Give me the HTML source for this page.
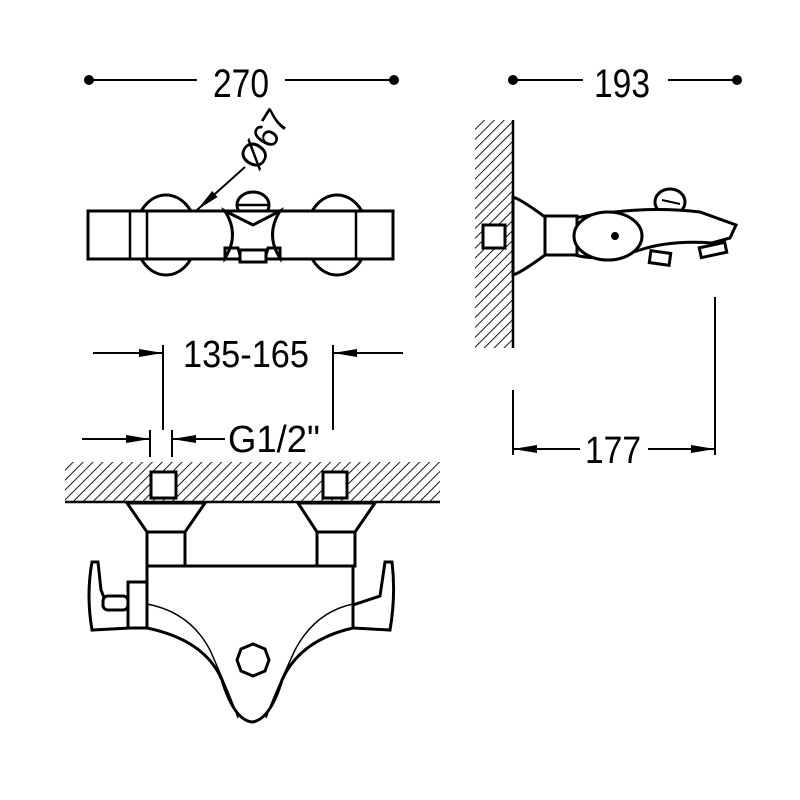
<!DOCTYPE html>
<html><head><meta charset="utf-8"><style>html,body{margin:0;padding:0;background:#fff}svg{display:block}</style></head>
<body>
<svg width="800" height="800" viewBox="0 0 800 800" xmlns="http://www.w3.org/2000/svg">
<defs>
<pattern id="h" width="7" height="7" patternUnits="userSpaceOnUse" patternTransform="rotate(45)">
<line x1="0" y1="0" x2="0" y2="7" stroke="#000" stroke-width="1.8"/>
</pattern>
<marker id="a" markerWidth="24" markerHeight="10" refX="24" refY="5" orient="auto" markerUnits="userSpaceOnUse">
<path d="M0,1 L24,5 L0,9 Z" fill="#000"/>
</marker>
</defs>
<g font-family="Liberation Sans, sans-serif" fill="#000">
<text x="241" y="97" font-size="40" text-anchor="middle" textLength="56" lengthAdjust="spacingAndGlyphs">270</text>
<text x="622" y="97" font-size="40" text-anchor="middle" textLength="56" lengthAdjust="spacingAndGlyphs">193</text>
<text x="246" y="367" font-size="38" text-anchor="middle" textLength="126" lengthAdjust="spacingAndGlyphs">135-165</text>
<text x="228" y="452" font-size="38" textLength="92" lengthAdjust="spacingAndGlyphs">G1/2"</text>
<text x="613" y="463" font-size="38" text-anchor="middle" textLength="56" lengthAdjust="spacingAndGlyphs">177</text>
<text x="0" y="0" font-size="36" transform="translate(258,172) rotate(-58)" textLength="62" lengthAdjust="spacingAndGlyphs">Ø67</text>
</g>
<g stroke="#000" stroke-width="2" fill="none">
<line x1="89" y1="80" x2="197" y2="80"/><line x1="285" y1="80" x2="394" y2="80"/>
<line x1="513" y1="80" x2="583" y2="80"/><line x1="668" y1="80" x2="737" y2="80"/>
<line x1="163" y1="345" x2="163" y2="430"/><line x1="333" y1="345" x2="333" y2="430"/>
<line x1="93" y1="353" x2="163" y2="353" marker-end="url(#a)"/>
<line x1="403" y1="353" x2="333" y2="353" marker-end="url(#a)"/>
<line x1="150" y1="430" x2="150" y2="457"/><line x1="172" y1="430" x2="172" y2="457"/>
<line x1="82" y1="439" x2="150" y2="439" marker-end="url(#a)"/>
<line x1="225" y1="439" x2="172" y2="439" marker-end="url(#a)"/>
<line x1="513" y1="390" x2="513" y2="455"/><line x1="715" y1="297" x2="715" y2="455"/>
<line x1="580" y1="449" x2="513" y2="449" marker-end="url(#a)"/>
<line x1="648" y1="449" x2="715" y2="449" marker-end="url(#a)"/>
<line x1="245" y1="167" x2="197" y2="210" marker-end="url(#a)"/>
</g>
<g fill="#000"><circle cx="89" cy="80" r="5"/><circle cx="394" cy="80" r="5"/><circle cx="513" cy="80" r="5"/><circle cx="737" cy="80" r="5"/></g>

<!-- top view -->
<g stroke="#000" stroke-width="3" fill="#fff">
<ellipse cx="166" cy="235" rx="31" ry="40"/>
<ellipse cx="337" cy="235" rx="31" ry="40"/>
<ellipse cx="253" cy="205" rx="16" ry="13"/>
<rect x="88" y="211" width="305" height="48"/>
<path d="M225,211 Q240,235 225,258 L225,248 L238,248 L242,262 L264,262 L268,248 L280,248 L280,258 Q265,235 280,211 L253,225 Z"/>
<rect x="240" y="250" width="26" height="12"/>
</g>
<g stroke="#000" stroke-width="2.5"><line x1="130" y1="211" x2="130" y2="259"/><line x1="147" y1="211" x2="147" y2="259"/><line x1="356" y1="211" x2="356" y2="259"/><line x1="237" y1="205" x2="269" y2="205"/></g>

<!-- side view -->
<rect x="475" y="120" width="38" height="228" fill="url(#h)"/>
<line x1="513" y1="120" x2="513" y2="348" stroke="#000" stroke-width="2.5"/>
<g stroke="#000" stroke-width="3" fill="#fff">
<rect x="483" y="225" width="22" height="23"/>
<ellipse cx="670" cy="202" rx="15" ry="13"/>
<path d="M575,218 Q640,205 700,212 L736,225 L730,238 L712,243 Q670,240 640,250 Q600,262 575,255 Z"/>
<rect x="650" y="252" width="20" height="12" transform="rotate(8 660 258)"/>
<rect x="700" y="245" width="26" height="10" transform="rotate(-12 713 250)"/>
<path d="M513,197 Q522,200 545,217 L545,255 Q522,272 513,275 Z"/>
<rect x="545" y="216" width="32" height="39"/>
<ellipse cx="608" cy="236" rx="34" ry="24"/>
</g>
<circle cx="615" cy="236" r="4" fill="#000"/>
<line x1="662" y1="200" x2="680" y2="204" stroke="#000" stroke-width="2"/>

<!-- bottom view -->
<rect x="65" y="462" width="375" height="40" fill="url(#h)"/>
<line x1="65" y1="502" x2="440" y2="502" stroke="#000" stroke-width="2.5"/>
<g stroke="#000" stroke-width="3" fill="#fff">
<rect x="151" y="472" width="25" height="26"/>
<rect x="323" y="472" width="24" height="26"/>
<path d="M127,503 L205,503 L185,532 L147,532 Z"/>
<path d="M298,503 L375,503 L355,532 L317,532 Z"/>
<rect x="147" y="532" width="38" height="34"/>
<rect x="317" y="532" width="38" height="34"/>
<path d="M92,562 L98,562 L101,590 L105,600 L130,600 L130,628 L92,630 Q86,595 92,562 Z"/>
<rect x="103" y="596" width="25" height="14" rx="5"/>
<rect x="128" y="582" width="20" height="46"/>
<path d="M385,562 L392,562 Q396,595 390,630 L353,628 L353,605 L380,596 Z"/>
<path d="M147,566 L353,566 L353,628 Q300,640 282,680 Q270,720 252,722 Q234,720 222,680 Q205,640 147,628 Z"/>
<polygon points="253,644 265,649 269,660 265,671 253,676 241,671 237,660 241,649"/>
</g>
<g stroke="#000" stroke-width="1.5" fill="none">
<path d="M147,604 Q190,612 210,650 Q232,700 238,718"/>
<path d="M353,604 Q315,612 295,650 Q272,700 266,718"/>
</g>
</svg>
</body></html>
